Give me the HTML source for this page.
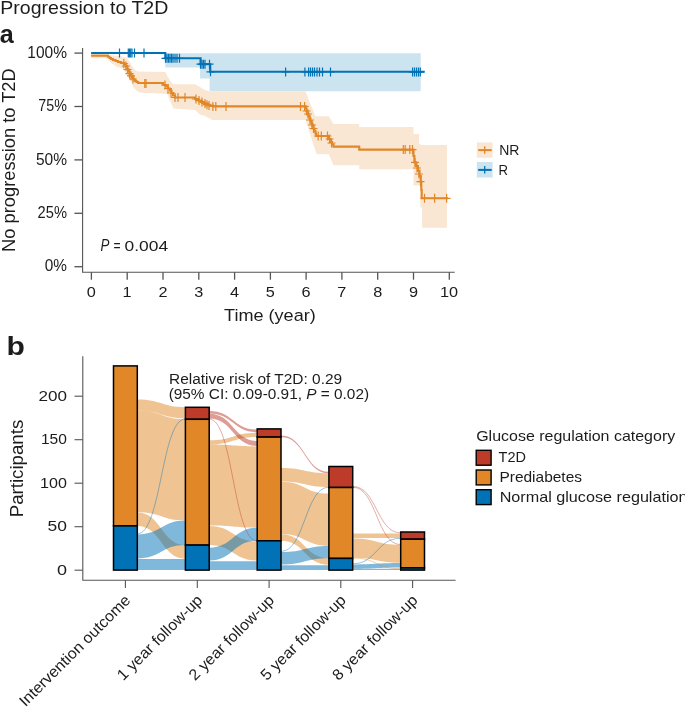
<!DOCTYPE html>
<html><head><meta charset="utf-8"><style>
html,body{margin:0;padding:0;background:#fff;}
svg{display:block;will-change:transform;font-family:"Liberation Sans",sans-serif;fill:#222;}
text{fill:#1c1c1c;}
</style></head><body>
<svg width="685" height="707" viewBox="0 0 685 707">
<g>
<polygon points="91.1,55.0 107.9,55.0 113.0,55.6 120.0,56.2 125.0,57.0 127.6,58.5 131.5,65.0 134.2,69.0 136.5,71.0 139.4,71.6 165.3,72.1 168.0,77.0 171.0,82.0 173.5,84.3 195.0,84.3 200.0,87.0 205.0,90.0 210.0,91.4 305.5,91.4 315.4,116.3 328.9,116.3 333.5,123.9 359.2,123.9 359.2,126.9 413.5,126.9 413.5,133.9 419.0,133.9 419.0,143.0 421.0,145.0 447.0,145.0 447.0,227.7 422.1,227.7 422.1,207.5 420.3,207.5 420.3,185.4 413.5,185.4 413.5,169.2 359.2,169.2 359.2,165.3 333.5,165.3 328.9,154.2 316.6,154.2 305.5,119.9 212.0,119.9 210.0,118.5 205.0,116.0 200.0,114.5 195.0,110.0 173.5,108.4 170.0,101.0 167.4,94.0 139.4,92.5 136.8,90.7 132.9,86.8 130.9,80.9 123.0,69.0 116.4,66.4 110.5,62.5 107.9,58.3 91.1,58.3" fill="#F9E7D4"/>
<polygon points="165.3,53.2 420.7,53.2 420.7,91.2 209.6,91.2 209.6,78.6 200.1,78.6 200.1,67.6 165.3,67.6" fill="#CCE3F0"/>
<path d="M91.1,55.6 H107.9 V56.8 H109.5 V58.0 H111.0 V59.0 H113.0 V60.0 H115.5 V61.0 H118.0 V62.0 H121.0 V63.0 H124.0 V64.2 H125.5 V65.5 H126.5 V67.5 H127.6 V69.5 H128.6 V71.5 H129.6 V73.7 H131.0 V75.8 H132.2 V77.6 H133.5 V79.5 H134.8 V81.0 H136.5 V82.0 H138.1 V83.0 H163.3 V85.0 H166.0 V86.5 H168.0 V88.5 H170.0 V90.5 H171.5 V93.0 H173.0 V95.5 H175.0 V97.5 H195.0 V99.0 H198.0 V100.5 H201.0 V102.0 H204.0 V103.5 H207.0 V104.7 H210.0 V105.6 H213.0 V106.4 H305.5 V108.5 H306.5 V111.0 H307.5 V113.5 H308.5 V116.0 H309.5 V118.5 H310.5 V121.0 H311.5 V123.5 H312.5 V126.0 H313.5 V128.5 H314.5 V131.0 H315.5 V133.5 H316.2 V136.0 H328.9 V139.0 H330.5 V142.0 H332.0 V144.5 H333.5 V146.6 H359.2 V149.6 H413.5 V156.0 H414.4 V162.4 H416.0 V166.0 H418.0 V170.7 H419.5 V176.0 H420.8 V181.7 H421.3 V190.0 H421.7 V198.3 H448" fill="none" stroke="#E18727" stroke-width="2.1"/>
<path d="M91.1,53.0 H165.3 V58.2 H200.6 V64.2 H210.2 V71.8 H424.7" fill="none" stroke="#0072B5" stroke-width="2.1"/>
<path d="M119.5,48.5v9.0M115.5,53.0h8.0" stroke="#0072B5" stroke-width="1.2"/>
<path d="M128.3,48.5v9.0M124.3,53.0h8.0" stroke="#0072B5" stroke-width="1.2"/>
<path d="M129.5,48.5v9.0M125.5,53.0h8.0" stroke="#0072B5" stroke-width="1.2"/>
<path d="M130.7,48.5v9.0M126.7,53.0h8.0" stroke="#0072B5" stroke-width="1.2"/>
<path d="M132.0,48.5v9.0M128.0,53.0h8.0" stroke="#0072B5" stroke-width="1.2"/>
<path d="M134.5,48.5v9.0M130.5,53.0h8.0" stroke="#0072B5" stroke-width="1.2"/>
<path d="M144.0,48.5v9.0M140.0,53.0h8.0" stroke="#0072B5" stroke-width="1.2"/>
<path d="M165.5,53.8v9.0M161.5,58.3h8.0" stroke="#0072B5" stroke-width="1.2"/>
<path d="M167.0,53.8v9.0M163.0,58.3h8.0" stroke="#0072B5" stroke-width="1.2"/>
<path d="M168.5,53.8v9.0M164.5,58.3h8.0" stroke="#0072B5" stroke-width="1.2"/>
<path d="M170.0,53.8v9.0M166.0,58.3h8.0" stroke="#0072B5" stroke-width="1.2"/>
<path d="M171.5,53.8v9.0M167.5,58.3h8.0" stroke="#0072B5" stroke-width="1.2"/>
<path d="M173.0,53.8v9.0M169.0,58.3h8.0" stroke="#0072B5" stroke-width="1.2"/>
<path d="M175.0,53.8v9.0M171.0,58.3h8.0" stroke="#0072B5" stroke-width="1.2"/>
<path d="M177.0,53.8v9.0M173.0,58.3h8.0" stroke="#0072B5" stroke-width="1.2"/>
<path d="M179.5,53.8v9.0M175.5,58.3h8.0" stroke="#0072B5" stroke-width="1.2"/>
<path d="M200.5,59.7v9.0M196.5,64.2h8.0" stroke="#0072B5" stroke-width="1.2"/>
<path d="M202.0,59.7v9.0M198.0,64.2h8.0" stroke="#0072B5" stroke-width="1.2"/>
<path d="M203.5,59.7v9.0M199.5,64.2h8.0" stroke="#0072B5" stroke-width="1.2"/>
<path d="M205.0,59.7v9.0M201.0,64.2h8.0" stroke="#0072B5" stroke-width="1.2"/>
<path d="M209.5,59.7v9.0M205.5,64.2h8.0" stroke="#0072B5" stroke-width="1.2"/>
<path d="M210.5,67.3v9.0M206.5,71.8h8.0" stroke="#0072B5" stroke-width="1.2"/>
<path d="M285.6,67.4v9.0M281.6,71.9h8.0" stroke="#0072B5" stroke-width="1.2"/>
<path d="M304.9,67.4v9.0M300.9,71.9h8.0" stroke="#0072B5" stroke-width="1.2"/>
<path d="M308.6,67.4v9.0M304.6,71.9h8.0" stroke="#0072B5" stroke-width="1.2"/>
<path d="M310.5,67.4v9.0M306.5,71.9h8.0" stroke="#0072B5" stroke-width="1.2"/>
<path d="M312.5,67.4v9.0M308.5,71.9h8.0" stroke="#0072B5" stroke-width="1.2"/>
<path d="M314.5,67.4v9.0M310.5,71.9h8.0" stroke="#0072B5" stroke-width="1.2"/>
<path d="M317.0,67.4v9.0M313.0,71.9h8.0" stroke="#0072B5" stroke-width="1.2"/>
<path d="M319.5,67.4v9.0M315.5,71.9h8.0" stroke="#0072B5" stroke-width="1.2"/>
<path d="M322.5,67.4v9.0M318.5,71.9h8.0" stroke="#0072B5" stroke-width="1.2"/>
<path d="M330.5,67.4v9.0M326.5,71.9h8.0" stroke="#0072B5" stroke-width="1.2"/>
<path d="M412.6,67.4v9.0M408.6,71.9h8.0" stroke="#0072B5" stroke-width="1.2"/>
<path d="M414.5,67.4v9.0M410.5,71.9h8.0" stroke="#0072B5" stroke-width="1.2"/>
<path d="M416.5,67.4v9.0M412.5,71.9h8.0" stroke="#0072B5" stroke-width="1.2"/>
<path d="M418.5,67.4v9.0M414.5,71.9h8.0" stroke="#0072B5" stroke-width="1.2"/>
<path d="M420.3,67.4v9.0M416.3,71.9h8.0" stroke="#0072B5" stroke-width="1.2"/>
<path d="M123.8,59.0v9.0M119.8,63.5h8.0" stroke="#E18727" stroke-width="1.2"/>
<path d="M125.9,61.5v9.0M121.9,66.0h8.0" stroke="#E18727" stroke-width="1.2"/>
<path d="M127.5,65.0v9.0M123.5,69.5h8.0" stroke="#E18727" stroke-width="1.2"/>
<path d="M129.5,69.2v9.0M125.5,73.7h8.0" stroke="#E18727" stroke-width="1.2"/>
<path d="M131.0,71.3v9.0M127.0,75.8h8.0" stroke="#E18727" stroke-width="1.2"/>
<path d="M133.0,74.5v9.0M129.0,79.0h8.0" stroke="#E18727" stroke-width="1.2"/>
<path d="M144.8,78.9v9.0M140.8,83.4h8.0" stroke="#E18727" stroke-width="1.2"/>
<path d="M146.0,78.9v9.0M142.0,83.4h8.0" stroke="#E18727" stroke-width="1.2"/>
<path d="M165.0,80.5v9.0M161.0,85.0h8.0" stroke="#E18727" stroke-width="1.2"/>
<path d="M168.0,84.0v9.0M164.0,88.5h8.0" stroke="#E18727" stroke-width="1.2"/>
<path d="M171.0,88.5v9.0M167.0,93.0h8.0" stroke="#E18727" stroke-width="1.2"/>
<path d="M175.0,93.0v9.0M171.0,97.5h8.0" stroke="#E18727" stroke-width="1.2"/>
<path d="M178.0,93.0v9.0M174.0,97.5h8.0" stroke="#E18727" stroke-width="1.2"/>
<path d="M185.0,93.0v9.0M181.0,97.5h8.0" stroke="#E18727" stroke-width="1.2"/>
<path d="M196.0,94.5v9.0M192.0,99.0h8.0" stroke="#E18727" stroke-width="1.2"/>
<path d="M199.0,96.0v9.0M195.0,100.5h8.0" stroke="#E18727" stroke-width="1.2"/>
<path d="M202.0,97.5v9.0M198.0,102.0h8.0" stroke="#E18727" stroke-width="1.2"/>
<path d="M205.0,99.0v9.0M201.0,103.5h8.0" stroke="#E18727" stroke-width="1.2"/>
<path d="M207.0,100.2v9.0M203.0,104.7h8.0" stroke="#E18727" stroke-width="1.2"/>
<path d="M209.0,101.1v9.0M205.0,105.6h8.0" stroke="#E18727" stroke-width="1.2"/>
<path d="M212.9,101.9v9.0M208.9,106.4h8.0" stroke="#E18727" stroke-width="1.2"/>
<path d="M215.8,101.9v9.0M211.8,106.4h8.0" stroke="#E18727" stroke-width="1.2"/>
<path d="M226.0,101.9v9.0M222.0,106.4h8.0" stroke="#E18727" stroke-width="1.2"/>
<path d="M300.5,101.9v9.0M296.5,106.4h8.0" stroke="#E18727" stroke-width="1.2"/>
<path d="M304.6,101.9v9.0M300.6,106.4h8.0" stroke="#E18727" stroke-width="1.2"/>
<path d="M306.5,106.5v9.0M302.5,111.0h8.0" stroke="#E18727" stroke-width="1.2"/>
<path d="M308.0,109.5v9.0M304.0,114.0h8.0" stroke="#E18727" stroke-width="1.2"/>
<path d="M310.0,115.5v9.0M306.0,120.0h8.0" stroke="#E18727" stroke-width="1.2"/>
<path d="M312.0,120.5v9.0M308.0,125.0h8.0" stroke="#E18727" stroke-width="1.2"/>
<path d="M313.5,124.0v9.0M309.5,128.5h8.0" stroke="#E18727" stroke-width="1.2"/>
<path d="M318.2,131.5v9.0M314.2,136.0h8.0" stroke="#E18727" stroke-width="1.2"/>
<path d="M321.3,131.5v9.0M317.3,136.0h8.0" stroke="#E18727" stroke-width="1.2"/>
<path d="M327.5,131.5v9.0M323.5,136.0h8.0" stroke="#E18727" stroke-width="1.2"/>
<path d="M329.5,134.5v9.0M325.5,139.0h8.0" stroke="#E18727" stroke-width="1.2"/>
<path d="M331.5,138.5v9.0M327.5,143.0h8.0" stroke="#E18727" stroke-width="1.2"/>
<path d="M403.3,145.1v9.0M399.3,149.6h8.0" stroke="#E18727" stroke-width="1.2"/>
<path d="M405.2,145.1v9.0M401.2,149.6h8.0" stroke="#E18727" stroke-width="1.2"/>
<path d="M409.8,145.1v9.0M405.8,149.6h8.0" stroke="#E18727" stroke-width="1.2"/>
<path d="M412.5,145.1v9.0M408.5,149.6h8.0" stroke="#E18727" stroke-width="1.2"/>
<path d="M415.0,157.9v9.0M411.0,162.4h8.0" stroke="#E18727" stroke-width="1.2"/>
<path d="M417.0,163.5v9.0M413.0,168.0h8.0" stroke="#E18727" stroke-width="1.2"/>
<path d="M419.0,169.5v9.0M415.0,174.0h8.0" stroke="#E18727" stroke-width="1.2"/>
<path d="M420.5,177.2v9.0M416.5,181.7h8.0" stroke="#E18727" stroke-width="1.2"/>
<path d="M424.5,193.8v9.0M420.5,198.3h8.0" stroke="#E18727" stroke-width="1.2"/>
<path d="M434.6,193.8v9.0M430.6,198.3h8.0" stroke="#E18727" stroke-width="1.2"/>
<path d="M446.6,193.8v9.0M442.6,198.3h8.0" stroke="#E18727" stroke-width="1.2"/>
<path d="M82.6,48 V272.2 H454.7" fill="none" stroke="#555555" stroke-width="1.1"/>
<path d="M74.4,53.1 H82.6" stroke="#555555" stroke-width="1.3"/>
<path d="M74.4,106.5 H82.6" stroke="#555555" stroke-width="1.3"/>
<path d="M74.4,159.9 H82.6" stroke="#555555" stroke-width="1.3"/>
<path d="M74.4,213.3 H82.6" stroke="#555555" stroke-width="1.3"/>
<path d="M74.4,266.7 H82.6" stroke="#555555" stroke-width="1.3"/>
<path d="M91.4,272.2 V279.7" stroke="#555555" stroke-width="1.3"/>
<path d="M127.2,272.2 V279.7" stroke="#555555" stroke-width="1.3"/>
<path d="M163.0,272.2 V279.7" stroke="#555555" stroke-width="1.3"/>
<path d="M198.8,272.2 V279.7" stroke="#555555" stroke-width="1.3"/>
<path d="M234.6,272.2 V279.7" stroke="#555555" stroke-width="1.3"/>
<path d="M270.4,272.2 V279.7" stroke="#555555" stroke-width="1.3"/>
<path d="M306.1,272.2 V279.7" stroke="#555555" stroke-width="1.3"/>
<path d="M341.9,272.2 V279.7" stroke="#555555" stroke-width="1.3"/>
<path d="M377.7,272.2 V279.7" stroke="#555555" stroke-width="1.3"/>
<path d="M413.5,272.2 V279.7" stroke="#555555" stroke-width="1.3"/>
<path d="M449.3,272.2 V279.7" stroke="#555555" stroke-width="1.3"/>
</g>
<g>
<path d="M137.30,399.60 C161.35,399.60 161.35,407.20 185.40,407.20 L185.40,418.40 C161.35,418.40 161.35,410.60 137.30,410.60 Z" fill="#E18727" fill-opacity="0.50"/>
<path d="M137.30,410.60 C161.35,410.60 161.35,419.30 185.40,419.30 L185.40,520.50 C161.35,520.50 161.35,512.30 137.30,512.30 Z" fill="#E18727" fill-opacity="0.50"/>
<path d="M137.30,512.50 C161.35,512.50 161.35,545.10 185.40,545.10 L185.40,558.70 C161.35,558.70 161.35,526.00 137.30,526.00 Z" fill="#E18727" fill-opacity="0.50"/>
<path d="M209.20,440.30 C233.20,440.30 233.20,432.70 257.20,432.70 L257.20,437.00 C233.20,437.00 233.20,444.50 209.20,444.50 Z" fill="#E18727" fill-opacity="0.50"/>
<path d="M209.20,444.60 C233.20,444.60 233.20,446.40 257.20,446.40 L257.20,527.60 C233.20,527.60 233.20,525.50 209.20,525.50 Z" fill="#E18727" fill-opacity="0.50"/>
<path d="M209.20,525.90 C233.20,525.90 233.20,541.40 257.20,541.40 L257.20,560.60 C233.20,560.60 233.20,545.10 209.20,545.10 Z" fill="#E18727" fill-opacity="0.50"/>
<path d="M281.00,468.10 C304.95,468.10 304.95,473.40 328.90,473.40 L328.90,487.00 C304.95,487.00 304.95,481.50 281.00,481.50 Z" fill="#E18727" fill-opacity="0.50"/>
<path d="M281.00,481.70 C304.95,481.70 304.95,493.60 328.90,493.60 L328.90,545.90 C304.95,545.90 304.95,534.10 281.00,534.10 Z" fill="#E18727" fill-opacity="0.50"/>
<path d="M281.00,534.30 C304.95,534.30 304.95,558.30 328.90,558.30 L328.90,564.80 C304.95,564.80 304.95,540.80 281.00,540.80 Z" fill="#E18727" fill-opacity="0.50"/>
<path d="M352.70,533.40 C376.70,533.40 376.70,533.60 400.70,533.60 L400.70,537.90 C376.70,537.90 376.70,537.90 352.70,537.90 Z" fill="#E18727" fill-opacity="0.50"/>
<path d="M352.70,538.40 C376.70,538.40 376.70,544.80 400.70,544.80 L400.70,562.80 C376.70,562.80 376.70,557.80 352.70,557.80 Z" fill="#E18727" fill-opacity="0.50"/>
<path d="M137.30,534.40 C161.35,534.40 161.35,520.50 185.40,520.50 L185.40,545.10 C161.35,545.10 161.35,558.50 137.30,558.50 Z" fill="#0072B5" fill-opacity="0.50"/>
<path d="M137.30,558.90 C161.35,558.90 161.35,558.90 185.40,558.90 L185.40,570.10 C161.35,570.10 161.35,570.10 137.30,570.10 Z" fill="#0072B5" fill-opacity="0.50"/>
<path d="M209.20,547.70 C233.20,547.70 233.20,527.80 257.20,527.80 L257.20,540.80 C233.20,540.80 233.20,560.60 209.20,560.60 Z" fill="#0072B5" fill-opacity="0.50"/>
<path d="M209.20,561.20 C233.20,561.20 233.20,561.20 257.20,561.20 L257.20,570.10 C233.20,570.10 233.20,570.10 209.20,570.10 Z" fill="#0072B5" fill-opacity="0.50"/>
<path d="M281.00,552.00 C304.95,552.00 304.95,545.90 328.90,545.90 L328.90,558.30 C304.95,558.30 304.95,564.50 281.00,564.50 Z" fill="#0072B5" fill-opacity="0.50"/>
<path d="M281.00,565.20 C304.95,565.20 304.95,565.20 328.90,565.20 L328.90,570.10 C304.95,570.10 304.95,570.10 281.00,570.10 Z" fill="#0072B5" fill-opacity="0.50"/>
<path d="M352.70,564.40 C376.70,564.40 376.70,563.00 400.70,563.00 L400.70,567.60 C376.70,567.60 376.70,568.80 352.70,568.80 Z" fill="#0072B5" fill-opacity="0.50"/>
<path d="M352.70,568.80 C376.70,568.80 376.70,568.80 400.70,568.80 L400.70,570.10 C376.70,570.10 376.70,570.10 352.70,570.10 Z" fill="#0072B5" fill-opacity="0.50"/>
<path d="M209.20,410.90 C233.20,410.90 233.20,429.60 257.20,429.60 L257.20,432.30 C233.20,432.30 233.20,413.60 209.20,413.60 Z" fill="#BC3C29" fill-opacity="0.50"/>
<path d="M209.20,413.80 C233.20,413.80 233.20,440.90 257.20,440.90 L257.20,446.10 C233.20,446.10 233.20,418.60 209.20,418.60 Z" fill="#BC3C29" fill-opacity="0.50"/>
<path d="M281.00,435.40 C304.95,435.40 304.95,471.70 328.90,471.70 L328.90,473.40 C304.95,473.40 304.95,437.10 281.00,437.10 Z" fill="#BC3C29" fill-opacity="0.50"/>
<path d="M137.30,533.80 C161.35,533.80 161.35,418.90 185.40,418.90" fill="none" stroke="#0072B5" stroke-opacity="0.55" stroke-width="0.75"/>
<path d="M209.20,419.00 C233.20,419.00 233.20,541.00 257.20,541.00" fill="none" stroke="#BC3C29" stroke-opacity="0.55" stroke-width="0.75"/>
<path d="M281.00,551.40 C304.95,551.40 304.95,487.20 328.90,487.20" fill="none" stroke="#0072B5" stroke-opacity="0.55" stroke-width="0.75"/>
<path d="M352.70,486.40 C376.70,486.40 376.70,532.90 400.70,532.90" fill="none" stroke="#BC3C29" stroke-opacity="0.55" stroke-width="0.75"/>
<path d="M352.70,487.20 C376.70,487.20 376.70,544.60 400.70,544.60" fill="none" stroke="#BC3C29" stroke-opacity="0.55" stroke-width="0.75"/>
<path d="M352.70,563.80 C376.70,563.80 376.70,538.30 400.70,538.30" fill="none" stroke="#0072B5" stroke-opacity="0.55" stroke-width="0.75"/>
<path d="M352.70,558.00 C376.70,558.00 376.70,568.80 400.70,568.80" fill="none" stroke="#E18727" stroke-opacity="0.55" stroke-width="0.75"/>
<rect x="113.50" y="365.90" width="23.80" height="160.00" fill="#E18727" stroke="#000" stroke-width="1.5"/>
<rect x="113.50" y="525.90" width="23.80" height="44.20" fill="#0072B5" stroke="#000" stroke-width="1.5"/>
<rect x="185.40" y="407.30" width="23.80" height="12.00" fill="#BC3C29" stroke="#000" stroke-width="1.5"/>
<rect x="185.40" y="419.30" width="23.80" height="125.80" fill="#E18727" stroke="#000" stroke-width="1.5"/>
<rect x="185.40" y="545.10" width="23.80" height="25.00" fill="#0072B5" stroke="#000" stroke-width="1.5"/>
<rect x="257.20" y="428.90" width="23.80" height="8.20" fill="#BC3C29" stroke="#000" stroke-width="1.5"/>
<rect x="257.20" y="437.10" width="23.80" height="103.70" fill="#E18727" stroke="#000" stroke-width="1.5"/>
<rect x="257.20" y="540.80" width="23.80" height="29.30" fill="#0072B5" stroke="#000" stroke-width="1.5"/>
<rect x="328.90" y="466.50" width="23.80" height="21.00" fill="#BC3C29" stroke="#000" stroke-width="1.5"/>
<rect x="328.90" y="487.50" width="23.80" height="70.90" fill="#E18727" stroke="#000" stroke-width="1.5"/>
<rect x="328.90" y="558.40" width="23.80" height="11.70" fill="#0072B5" stroke="#000" stroke-width="1.5"/>
<rect x="400.70" y="532.00" width="23.80" height="7.20" fill="#BC3C29" stroke="#000" stroke-width="1.5"/>
<rect x="400.70" y="539.20" width="23.80" height="28.70" fill="#E18727" stroke="#000" stroke-width="1.5"/>
<rect x="400.70" y="567.90" width="23.80" height="2.20" fill="#0072B5" stroke="#000" stroke-width="1.5"/>
<path d="M82.8,356.3 V580.3 H455.6" fill="none" stroke="#555555" stroke-width="1.1"/>
<path d="M74.5,570.2 H82.8" stroke="#555555" stroke-width="1.1"/>
<path d="M74.5,526.7 H82.8" stroke="#555555" stroke-width="1.1"/>
<path d="M74.5,483.2 H82.8" stroke="#555555" stroke-width="1.1"/>
<path d="M74.5,439.7 H82.8" stroke="#555555" stroke-width="1.1"/>
<path d="M74.5,396.2 H82.8" stroke="#555555" stroke-width="1.1"/>
<path d="M125.4,580.3 V588" stroke="#555555" stroke-width="1.1"/>
<path d="M197.3,580.3 V588" stroke="#555555" stroke-width="1.1"/>
<path d="M269.1,580.3 V588" stroke="#555555" stroke-width="1.1"/>
<path d="M340.8,580.3 V588" stroke="#555555" stroke-width="1.1"/>
<path d="M412.6,580.3 V588" stroke="#555555" stroke-width="1.1"/>
<rect x="476.2" y="450.3" width="14.9" height="14.9" fill="#BC3C29" stroke="#000" stroke-width="1.4"/>
<rect x="476.2" y="470.0" width="14.9" height="14.9" fill="#E18727" stroke="#000" stroke-width="1.4"/>
<rect x="476.2" y="489.7" width="14.9" height="14.9" fill="#0072B5" stroke="#000" stroke-width="1.4"/>
</g>
<g>
<text x="0.29" y="13.80" font-size="18.20" textLength="168.03" lengthAdjust="spacingAndGlyphs">Progression to T2D</text>
<text x="-0.15" y="43.10" font-size="26.50" textLength="14.00" lengthAdjust="spacingAndGlyphs" font-weight="bold">a</text>
<text x="27.34" y="57.70" font-size="15.60" textLength="39.65" lengthAdjust="spacingAndGlyphs">100%</text>
<text x="38.35" y="111.10" font-size="15.60" textLength="28.57" lengthAdjust="spacingAndGlyphs">75%</text>
<text x="35.88" y="164.50" font-size="15.60" textLength="31.09" lengthAdjust="spacingAndGlyphs">50%</text>
<text x="37.57" y="217.90" font-size="15.60" textLength="29.37" lengthAdjust="spacingAndGlyphs">25%</text>
<text x="44.79" y="271.30" font-size="15.60" textLength="22.20" lengthAdjust="spacingAndGlyphs">0%</text>
<text x="86.86" y="297.30" font-size="15.50" textLength="9.05" lengthAdjust="spacingAndGlyphs">0</text>
<text x="122.45" y="297.30" font-size="15.50" textLength="9.05" lengthAdjust="spacingAndGlyphs">1</text>
<text x="158.46" y="297.30" font-size="15.50" textLength="9.05" lengthAdjust="spacingAndGlyphs">2</text>
<text x="194.29" y="297.30" font-size="15.50" textLength="9.05" lengthAdjust="spacingAndGlyphs">3</text>
<text x="230.08" y="297.30" font-size="15.50" textLength="9.05" lengthAdjust="spacingAndGlyphs">4</text>
<text x="265.83" y="297.30" font-size="15.50" textLength="9.05" lengthAdjust="spacingAndGlyphs">5</text>
<text x="301.56" y="297.30" font-size="15.50" textLength="9.05" lengthAdjust="spacingAndGlyphs">6</text>
<text x="337.39" y="297.30" font-size="15.50" textLength="9.05" lengthAdjust="spacingAndGlyphs">7</text>
<text x="373.20" y="297.30" font-size="15.50" textLength="9.05" lengthAdjust="spacingAndGlyphs">8</text>
<text x="408.97" y="297.30" font-size="15.50" textLength="9.05" lengthAdjust="spacingAndGlyphs">9</text>
<text x="439.96" y="297.30" font-size="15.50" textLength="18.10" lengthAdjust="spacingAndGlyphs">10</text>
<text x="224.09" y="321.20" font-size="17.20" textLength="91.62" lengthAdjust="spacingAndGlyphs">Time (year)</text>
<text transform="translate(15.00,251.91) rotate(-90)" x="0" y="0" font-size="18.30" textLength="183.67" lengthAdjust="spacingAndGlyphs">No progression to T2D</text>
<text x="100.40" y="250.70" font-size="15.80" textLength="8.89" lengthAdjust="spacingAndGlyphs" font-style="italic">P</text>
<text x="113.39" y="250.70" font-size="15.50" textLength="7.10" lengthAdjust="spacingAndGlyphs">=</text>
<text x="124.50" y="250.70" font-size="15.50" textLength="43.58" lengthAdjust="spacingAndGlyphs">0.004</text>
<rect x="476.8" y="142.4" width="15.8" height="15.3" fill="#F9E7D4"/>
<path d="M478.2,150.1 H491.7" stroke="#E18727" stroke-width="2"/><path d="M484.7,146.3 V153.8" stroke="#E18727" stroke-width="1.3"/>
<rect x="476.8" y="162.0" width="15.8" height="15.5" fill="#CCE3F0"/>
<path d="M478.2,169.9 H491.7" stroke="#0072B5" stroke-width="2"/><path d="M484.7,166.1 V173.6" stroke="#0072B5" stroke-width="1.3"/>
<text x="499.25" y="155.00" font-size="15.20" textLength="20.21" lengthAdjust="spacingAndGlyphs">NR</text>
<text x="498.51" y="174.70" font-size="14.80" textLength="9.51" lengthAdjust="spacingAndGlyphs">R</text>
<text x="6.44" y="354.50" font-size="26.50" textLength="18.39" lengthAdjust="spacingAndGlyphs" font-weight="bold">b</text>
<text x="56.98" y="574.50" font-size="15.50" textLength="10.02" lengthAdjust="spacingAndGlyphs">0</text>
<text x="47.60" y="531.00" font-size="15.50" textLength="19.39" lengthAdjust="spacingAndGlyphs">50</text>
<text x="40.09" y="487.50" font-size="15.50" textLength="26.83" lengthAdjust="spacingAndGlyphs">100</text>
<text x="40.93" y="444.00" font-size="15.50" textLength="25.97" lengthAdjust="spacingAndGlyphs">150</text>
<text x="38.45" y="400.50" font-size="15.50" textLength="28.51" lengthAdjust="spacingAndGlyphs">200</text>
<text transform="translate(22.90,517.24) rotate(-90)" x="0" y="0" font-size="18.60" textLength="97.49" lengthAdjust="spacingAndGlyphs">Participants</text>
<text x="169.03" y="384.10" font-size="15.40" textLength="173.09" lengthAdjust="spacingAndGlyphs">Relative risk of T2D: 0.29</text>
<text x="168.64" y="399.20" font-size="15.40" textLength="200.43" lengthAdjust="spacingAndGlyphs">(95% CI: 0.09-0.91, <tspan font-style="italic">P</tspan> = 0.02)</text>
<text x="476.20" y="440.60" font-size="14.80" textLength="199.03" lengthAdjust="spacingAndGlyphs">Glucose regulation category</text>
<text x="498.57" y="461.70" font-size="15.00" textLength="27.40" lengthAdjust="spacingAndGlyphs">T2D</text>
<text x="499.42" y="481.50" font-size="14.80" textLength="82.61" lengthAdjust="spacingAndGlyphs">Prediabetes</text>
<text x="499.67" y="502.00" font-size="14.80" textLength="187.89" lengthAdjust="spacingAndGlyphs">Normal glucose regulation</text>
<text transform="translate(131.4,601.2) rotate(-45) scale(1.037,1)" font-size="15.5" text-anchor="end">Intervention outcome</text>
<text transform="translate(203.3,601.2) rotate(-45) scale(1.037,1)" font-size="15.5" text-anchor="end">1 year follow-up</text>
<text transform="translate(275.1,601.2) rotate(-45) scale(1.037,1)" font-size="15.5" text-anchor="end">2 year follow-up</text>
<text transform="translate(346.8,601.2) rotate(-45) scale(1.037,1)" font-size="15.5" text-anchor="end">5 year follow-up</text>
<text transform="translate(418.6,601.2) rotate(-45) scale(1.037,1)" font-size="15.5" text-anchor="end">8 year follow-up</text>
</g>
</svg>
</body></html>
